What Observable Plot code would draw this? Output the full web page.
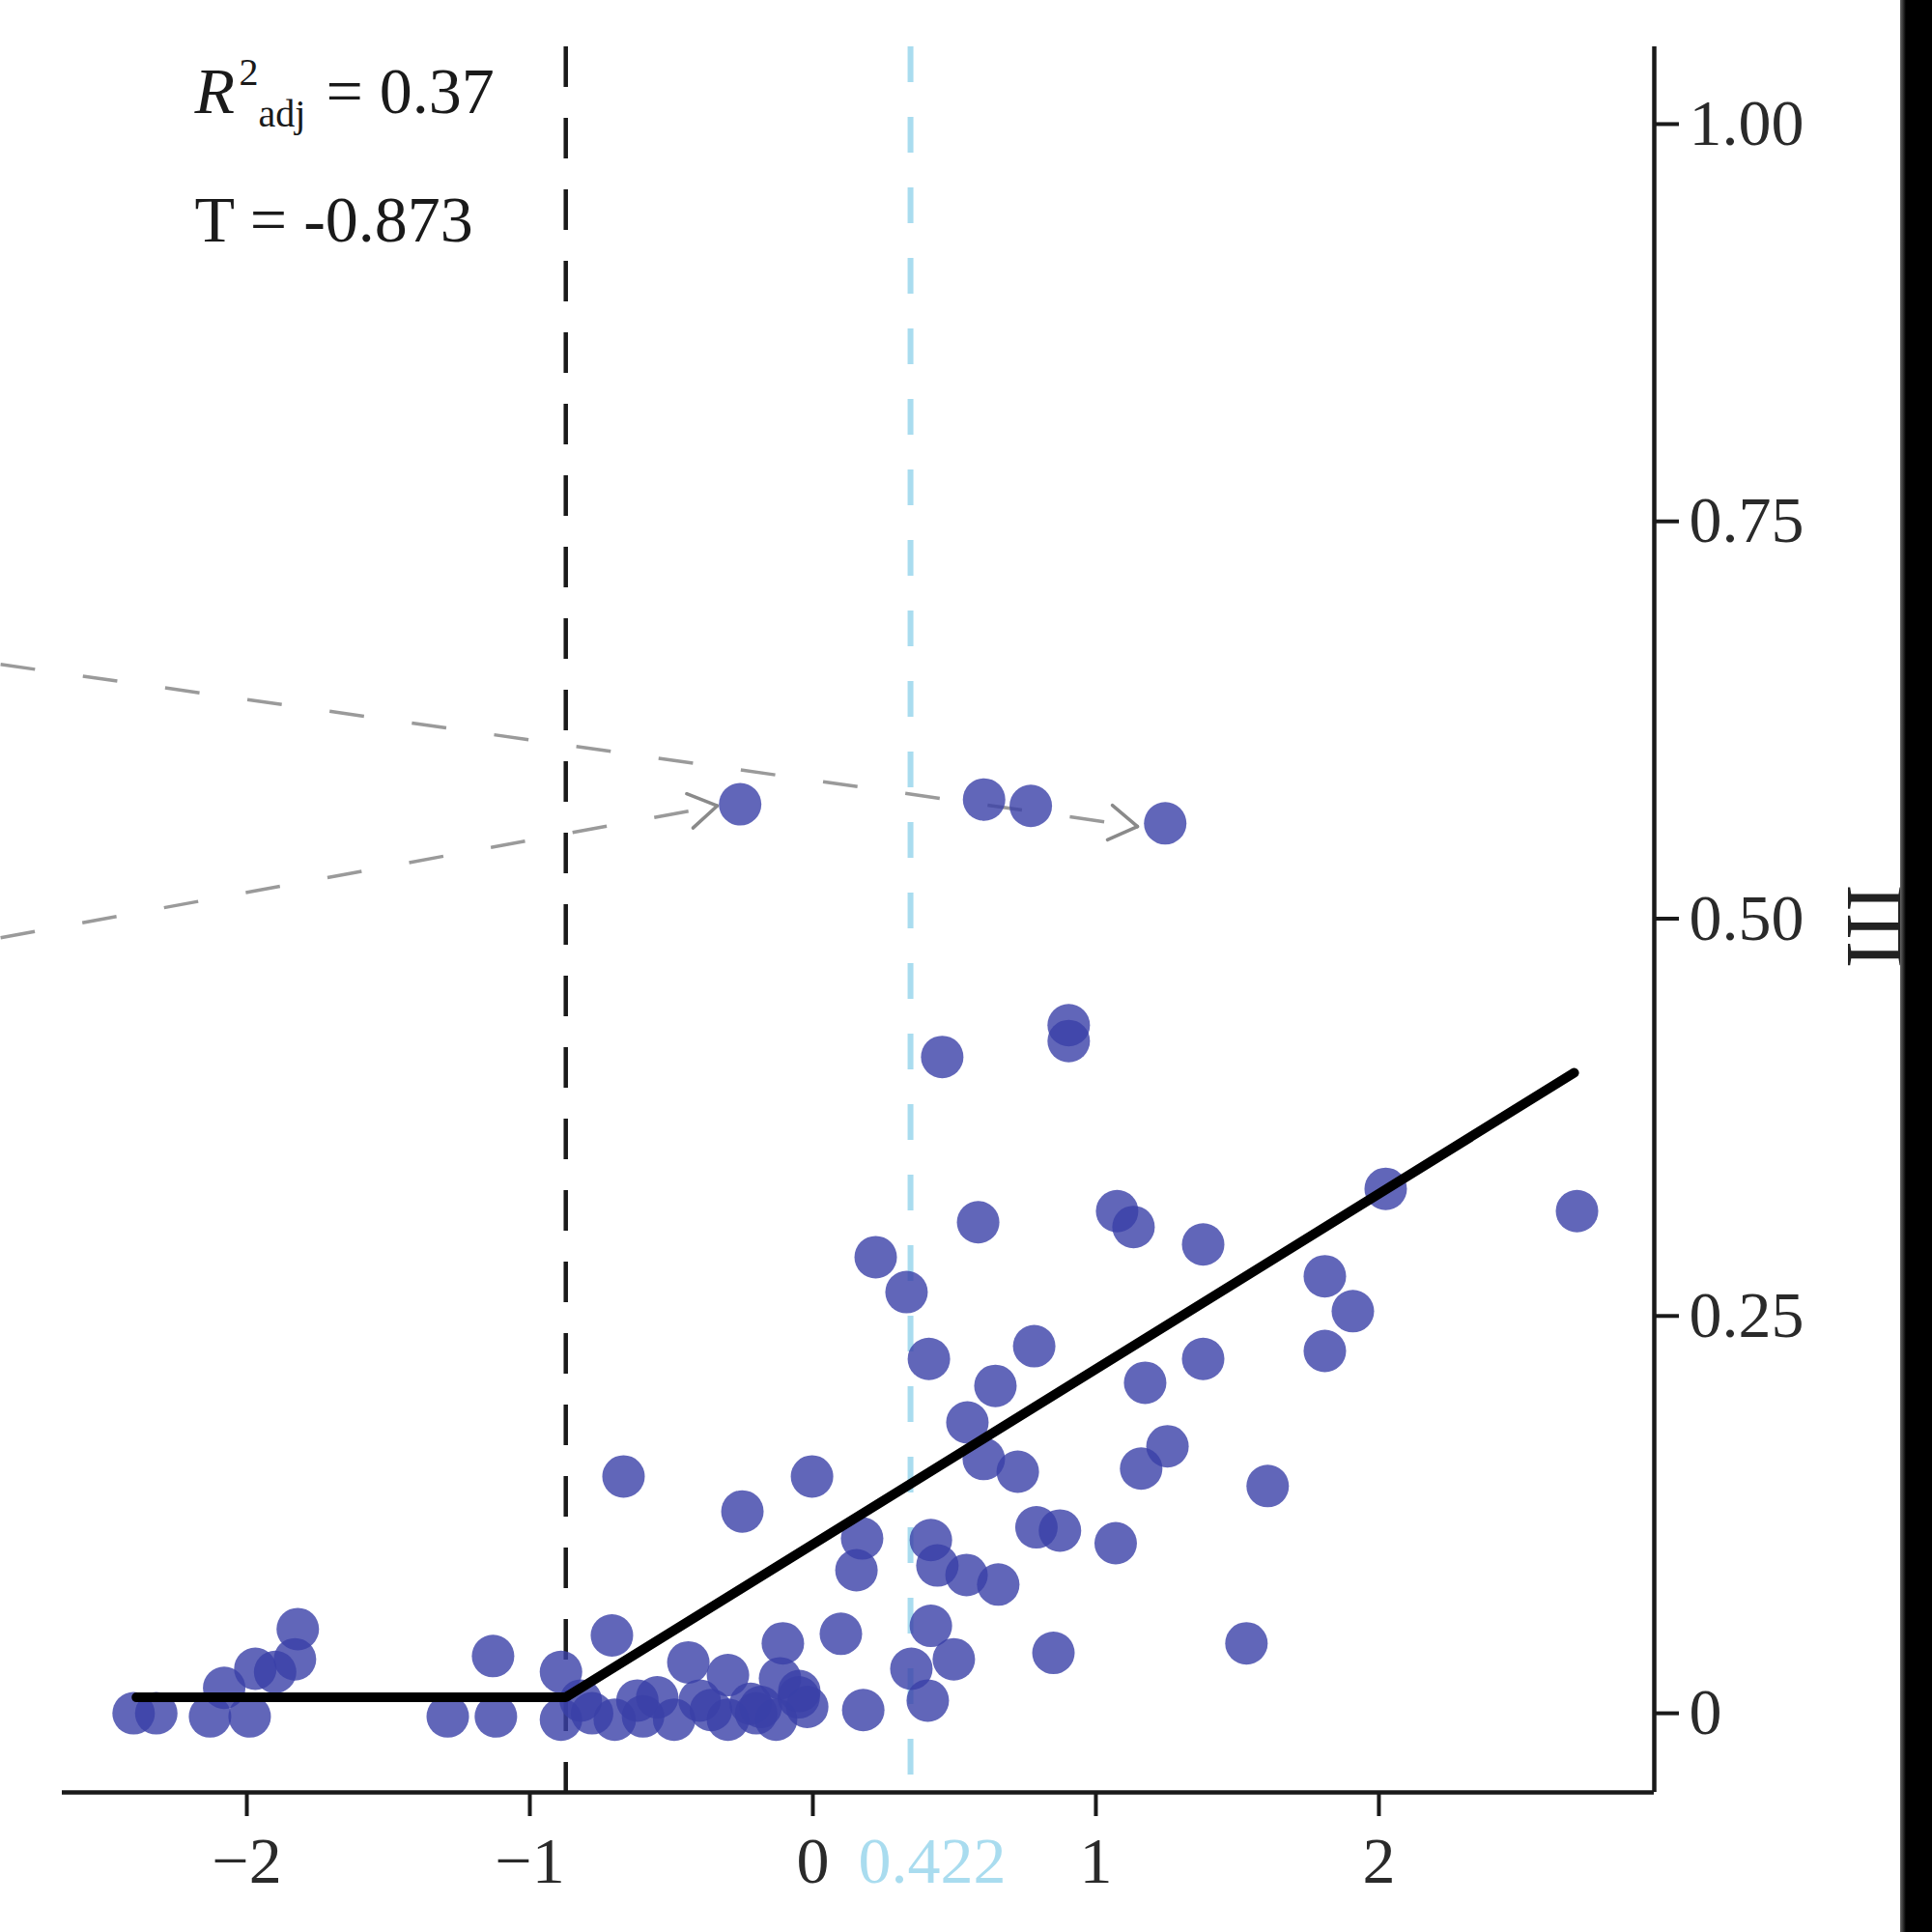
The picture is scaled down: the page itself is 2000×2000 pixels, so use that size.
<!DOCTYPE html>
<html>
<head>
<meta charset="utf-8">
<script src="https://cdn.jsdelivr.net/npm/d3@7"></script>
<script src="https://cdn.jsdelivr.net/npm/@observablehq/plot@0.6"></script>
<style>
  html, body { margin: 0; padding: 0; background: #fff; }
  #wrap { position: relative; width: 2000px; height: 2000px; overflow: hidden; background: #fff; }
  #edge { position: absolute; top: 0; right: 0; width: 33px; height: 2000px;
          background: linear-gradient(to right, #666 0px, #000 6px, #000 100%); }
</style>
</head>
<body>
<div id="wrap"><div id="chart"></div><div id="edge"></div></div>
<script>
// ---------- data ----------
const pointX = [
  -2.40, -2.32, -2.13, -1.99, -2.08, -1.97, -1.90, -1.83, -1.82,
  -1.29, -1.12, -1.13,
  -0.89, -0.70, -0.49, -0.30, -0.13,
  -0.82, -0.62, -0.55, -0.40, -0.22, -0.05,
  -0.78, -0.60, -0.36, -0.20, -0.02,
  -0.89, -0.71, -0.44, -0.30, -0.106, -0.116, -0.048, -0.184,
  0.099, 0.178, 0.417, 0.498, 0.348, 0.406, 0.850, 1.532,
  0.174, 0.154, 0.417, 0.440, 0.543, 0.655, 0.790, 0.873, 1.070,
  -0.003, -0.669, -0.249, 0.604, 0.724, 1.253, 1.160, 1.607,
  0.546, 0.645, 0.782, 0.410, 1.379, 1.174,
  1.809, 1.908, 1.809, 0.222, 0.331, 0.584, 1.075, 1.133, 1.379, 2.024, 2.700,
  0.457, 0.904, 0.904,
  -0.257, 0.605, 0.770, 1.245
];
const pointY = [
  0.000, 0.000, -0.002, -0.002, 0.016, 0.028, 0.026, 0.034, 0.053,
  -0.002, -0.002, 0.036,
  -0.004, -0.004, -0.004, -0.004, -0.004,
  0.008, 0.008, 0.010, 0.008, 0.006, 0.010,
  0.000, -0.002, 0.002, 0.000, 0.004,
  0.026, 0.049, 0.032, 0.024, 0.044, 0.022, 0.014, 0.004,
  0.050, 0.002, 0.055, 0.034, 0.028, 0.008, 0.038, 0.044,
  0.110, 0.090, 0.109, 0.093, 0.087, 0.081, 0.117, 0.115, 0.107,
  0.149, 0.149, 0.127, 0.160, 0.152, 0.168, 0.154, 0.143,
  0.183, 0.206, 0.231, 0.223, 0.223, 0.208,
  0.275, 0.253, 0.228, 0.287, 0.265, 0.309, 0.316, 0.306, 0.295, 0.330, 0.316,
  0.413, 0.433, 0.423,
  0.572, 0.575, 0.571, 0.560
];

// segmented fit
const fitX = [-2.39, -0.873, 2.69];
const fitY = [0.010, 0.010, 0.403];

// breakpoint and reference lines
const breakpointX = [-0.873];
const cyanLineX = [0.345];
const cyanLabelX = [0.422];
const cyanLabel = ["0.422"];

// incoming dashed arrows (from the neighbouring panel)
const arrowX1 = [-2.87, -2.87];
const arrowY1 = [0.660, 0.488];
const arrowX2 = [1.147, -0.338];
const arrowY2 = [0.558, 0.571];

// ticks
const xTicks = [-2, -1, 0, 1, 2];
const xTickLabels = ["\u22122", "\u22121", "0", "1", "2"];
const yTicks = [0, 0.25, 0.5, 0.75, 1.0];
const yTickLabels = ["0", "0.25", "0.50", "0.75", "1.00"];

// statistics text
const r2Value = "= 0.37";
const tText = "T = -0.873";
const sideLabel = ["\u0428"];

// ---------- build ----------
const W = 2000, H = 2000;
const mL = 64, mR = 288, mT = 48, mB = 145;
const xDomain = [-2.652, 2.973];
const yDomain = [-0.0498, 1.0486];
const FS = 68;
const ink = "#1a1a1a";

const points = pointX.map((x, i) => ({x, y: pointY[i]}));
const fit = fitX.map((x, i) => ({x, y: fitY[i]}));
const arrows = arrowX1.map((x1, i) => ({x1, y1: arrowY1[i], x2: arrowX2[i], y2: arrowY2[i]}));

// arrow heads: open "->" wings, derived from the same scales Plot uses
const sx = d3.scaleLinear(xDomain, [mL, W - mR]);
const sy = d3.scaleLinear(yDomain, [H - mB, mT]);
const headLen = 34, headHalf = 32 * Math.PI / 180;
const wings = [];
arrows.forEach(a => {
  const px1 = sx(a.x1), py1 = sy(a.y1), px2 = sx(a.x2), py2 = sy(a.y2);
  const th = Math.atan2(py2 - py1, px2 - px1);
  for (const s of [-1, 1]) {
    const ang = th + Math.PI + s * headHalf;
    wings.push({
      x1: sx.invert(px2 + headLen * Math.cos(ang)),
      y1: sy.invert(py2 + headLen * Math.sin(ang)),
      x2: a.x2, y2: a.y2
    });
  }
});

const chart = Plot.plot({
  width: W,
  height: H,
  marginLeft: mL,
  marginRight: mR,
  marginTop: mT,
  marginBottom: mB,
  style: {fontFamily: "'Liberation Serif', 'DejaVu Serif', serif", background: "white", overflow: "visible"},
  x: {domain: xDomain, axis: null},
  y: {domain: yDomain, axis: null},
  marks: [
    // incoming dashed arrows
    Plot.link(arrows, {
      x1: "x1", y1: "y1", x2: "x2", y2: "y2",
      stroke: "#9a9a9a", strokeWidth: 3.5, strokeDasharray: "36,50"
    }),
    Plot.link(wings, {
      x1: "x1", y1: "y1", x2: "x2", y2: "y2",
      stroke: "#8a8a8a", strokeWidth: 3.5, strokeLinecap: "round"
    }),
    // reference lines
    Plot.ruleX(cyanLineX, {stroke: "#a9dcef", strokeWidth: 6, strokeDasharray: "37,36"}),
    Plot.ruleX(breakpointX, {stroke: ink, strokeWidth: 4.5, strokeDasharray: "42,32"}),
    // data
    Plot.dot(points, {x: "x", y: "y", r: 22, fill: "#3a40a8", fillOpacity: 0.8, stroke: "none"}),
    // fit
    Plot.line(fit, {x: "x", y: "y", stroke: "#000", strokeWidth: 10, strokeLinejoin: "miter"}),
    // axis lines
    Plot.ruleY([yDomain[0]], {stroke: ink, strokeWidth: 4.5}),
    Plot.ruleX([xDomain[1]], {stroke: ink, strokeWidth: 4.5}),
    // axes
    Plot.axisX(xTicks, {
      anchor: "bottom", tickSize: 25, tickPadding: 20, fontSize: FS,
      tickFormat: d => xTickLabels[xTicks.indexOf(d)],
      stroke: ink, strokeWidth: 4, fill: "#2a2a2a", label: null
    }),
    Plot.axisY(yTicks, {
      anchor: "right", tickSize: 25, tickPadding: 11, fontSize: FS,
      tickFormat: d => yTickLabels[yTicks.indexOf(d)],
      stroke: ink, strokeWidth: 4, fill: "#2a2a2a", label: null
    }),
    // cyan tick label
    Plot.text(cyanLabelX.map((x, i) => ({x, t: cyanLabel[i]})), {
      x: "x", text: "t", frameAnchor: "bottom", lineAnchor: "top", dy: 45,
      fontSize: FS, fill: "#a9dcef"
    }),
    // statistics
    Plot.text(["R"], {frameAnchor: "top-left", textAnchor: "start", lineAnchor: "middle",
      dx: 137, dy: 47, fontSize: FS, fontStyle: "italic", fill: ink}),
    Plot.text(["2"], {frameAnchor: "top-left", textAnchor: "start", lineAnchor: "middle",
      dx: 183, dy: 27, fontSize: 40, fill: ink}),
    Plot.text(["adj"], {frameAnchor: "top-left", textAnchor: "start", lineAnchor: "middle",
      dx: 203, dy: 70, fontSize: 40, fill: ink}),
    Plot.text([r2Value], {frameAnchor: "top-left", textAnchor: "start", lineAnchor: "middle",
      dx: 273, dy: 47, fontSize: FS, fill: ink}),
    Plot.text([tText], {frameAnchor: "top-left", textAnchor: "start", lineAnchor: "middle",
      dx: 137, dy: 180, fontSize: FS, fill: ink}),
    // side label (cut off by the edge)
    Plot.text(sideLabel, {frameAnchor: "right", dx: 229, dy: -36, rotate: -90, fontSize: 85, fill: "#222", fontWeight: 300})
  ]
});
document.getElementById("chart").appendChild(chart);
</script>
</body>
</html>
